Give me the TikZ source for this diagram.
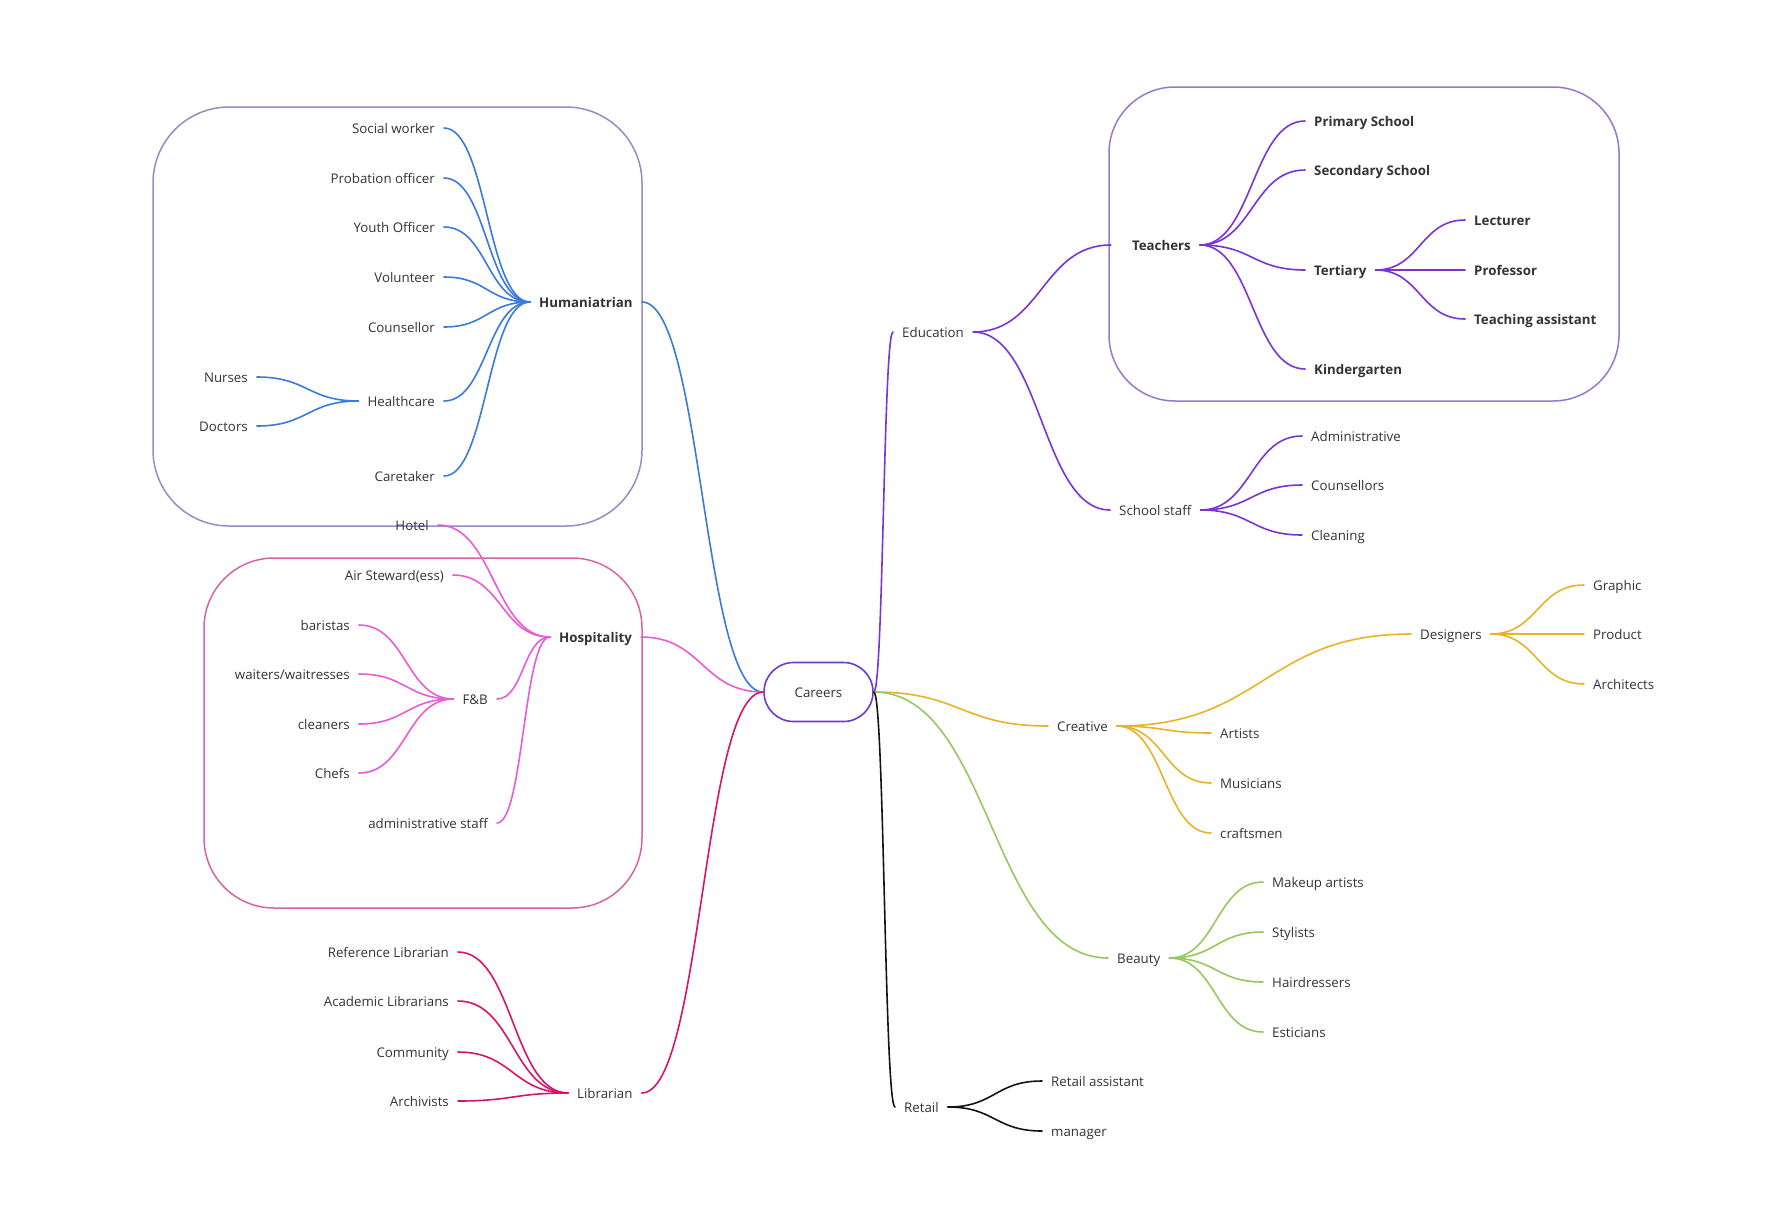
\documentclass[tikz,border=0pt]{standalone}
\usepackage{fontspec}
\setmainfont{Open Sans}
\usetikzlibrary{calc}
\definecolor{txt}{RGB}{51,51,51}
\definecolor{cblue}{RGB}{58,122,218}
\definecolor{cmag}{RGB}{232,92,214}
\definecolor{cpur}{RGB}{122,52,214}
\definecolor{cgold}{RGB}{234,178,40}
\definecolor{cgreen}{RGB}{150,200,96}
\definecolor{ccrim}{RGB}{212,20,110}
\definecolor{cblack}{RGB}{20,20,20}
\definecolor{bxlav}{RGB}{150,140,200}
\definecolor{bxpink}{RGB}{214,100,165}
\definecolor{bxpur}{RGB}{150,120,205}
\definecolor{ccar}{RGB}{110,60,200}
\begin{document}
\begin{tikzpicture}[x=1pt,y=-1pt,
 lbl/.style={font=\fontsize{13.3}{16}\selectfont, text=txt, inner xsep=9pt, inner ysep=0pt, text height=11pt, text depth=0.5pt},
 blbl/.style={lbl, font=\fontsize{13.3}{16}\selectfont\bfseries},
 br/.style={to path={let \p1=(\tikztostart), \p2=(\tikztotarget), \n1={0.5*(\x2-\x1)} in .. controls ([xshift=\n1]\tikztostart) and ([xshift=-\n1]\tikztotarget) .. (\tikztotarget)}},
 conn/.style={line width=1.6pt, line cap=round},
 grp/.style={line width=1.5pt}]
\useasboundingbox (0,0) rectangle (1770,1227);
\fill[white] (0,0) rectangle (1770,1227);
% group boxes
\draw[grp, bxlav, rounded corners=76pt] (153,107) rectangle (642,526);
\draw[grp, bxpink, rounded corners=70pt] (204,558) rectangle (642,908);
\draw[grp, bxpur, rounded corners=66pt] (1109,87) rectangle (1619,401);
% central
\node[lbl, draw=ccar, line width=1.6pt, rounded corners=29.5pt, minimum width=109pt, minimum height=59pt, inner xsep=0pt] (careers) at (818.5,692) {Careers};
% Humanitarian
\node[blbl, anchor=west] (hum) at (530,302) {Humaniatrian};
\node[lbl, anchor=east] (sw) at (444,128) {Social worker};
\node[lbl, anchor=east] (po) at (444,178) {Probation officer};
\node[lbl, anchor=east] (yo) at (444,227) {Youth Officer};
\node[lbl, anchor=east] (vol) at (444,277) {Volunteer};
\node[lbl, anchor=east] (cou) at (444,327) {Counsellor};
\node[lbl, anchor=east] (hc) at (444,401) {Healthcare};
\node[lbl, anchor=east] (car) at (444,476) {Caretaker};
\node[lbl, anchor=east] (nur) at (257,377) {Nurses};
\node[lbl, anchor=east] (doc) at (257,426) {Doctors};
% Hospitality
\node[blbl, anchor=west] (hos) at (550,637) {Hospitality};
\node[lbl, anchor=east] (hot) at (438,525) {Hotel};
\node[lbl, anchor=east] (air) at (453,575) {Air Steward(ess)};
\node[lbl, anchor=east] (fb) at (497,699) {F\&B};
\node[lbl, anchor=east] (adm) at (497,823) {administrative staff};
\node[lbl, anchor=east] (bar) at (359,625) {baristas};
\node[lbl, anchor=east] (wai) at (359,674) {waiters/waitresses};
\node[lbl, anchor=east] (cle) at (359,724) {cleaners};
\node[lbl, anchor=east] (che) at (359,773) {Chefs};
% Librarian
\node[lbl, anchor=west] (lib) at (568,1093) {Librarian};
\node[lbl, anchor=east] (ref) at (458,952) {Reference Librarian};
\node[lbl, anchor=east] (aca) at (458,1001) {Academic Librarians};
\node[lbl, anchor=east] (com) at (458,1052) {Community};
\node[lbl, anchor=east] (arc) at (458,1101) {Archivists};
% Education
\node[lbl, anchor=west] (edu) at (893,332) {Education};
\node[blbl, anchor=east] (tea) at (1200,245) {Teachers};
\node[blbl, anchor=west] (pri) at (1305,121) {Primary School};
\node[blbl, anchor=west] (sec) at (1305,170) {Secondary School};
\node[blbl, anchor=west] (ter) at (1305,270) {Tertiary};
\node[blbl, anchor=west] (kin) at (1305,369) {Kindergarten};
\node[blbl, anchor=west] (lec) at (1465,220) {Lecturer};
\node[blbl, anchor=west] (pro) at (1465,270) {Professor};
\node[blbl, anchor=west] (ta) at (1465,319) {Teaching assistant};
\node[lbl, anchor=west] (ss) at (1110,510) {School staff};
\node[lbl, anchor=west] (sad) at (1302,436) {Administrative};
\node[lbl, anchor=west] (sco) at (1302,485) {Counsellors};
\node[lbl, anchor=west] (scl) at (1302,535) {Cleaning};
% Creative
\node[lbl, anchor=east] (cre) at (1117,726) {Creative};
\node[lbl, anchor=west] (des) at (1411,634) {Designers};
\node[lbl, anchor=west] (gra) at (1584,585) {Graphic};
\node[lbl, anchor=west] (prd) at (1584,634) {Product};
\node[lbl, anchor=west] (arh) at (1584,684) {Architects};
\node[lbl, anchor=west] (art) at (1211,733) {Artists};
\node[lbl, anchor=west] (mus) at (1211,783) {Musicians};
\node[lbl, anchor=west] (cra) at (1211,833) {craftsmen};
% Beauty
\node[lbl, anchor=west] (bea) at (1108,958) {Beauty};
\node[lbl, anchor=west] (mak) at (1263,882) {Makeup artists};
\node[lbl, anchor=west] (sty) at (1263,932) {Stylists};
\node[lbl, anchor=west] (hai) at (1263,982) {Hairdressers};
\node[lbl, anchor=west] (est) at (1263,1032) {Esticians};
% Retail
\node[lbl, anchor=west] (ret) at (895,1107) {Retail};
\node[lbl, anchor=west] (ras) at (1042,1081) {Retail assistant};
\node[lbl, anchor=west] (man) at (1042,1131) {manager};
% connectors
\begin{scope}[conn, cblue]
\draw (careers.west) to[br] (hum.east);
\foreach \c in {sw,po,yo,vol,cou,hc,car} \draw (hum.west) to[br] (\c.east);
\foreach \c in {nur,doc} \draw (hc.west) to[br] (\c.east);
\end{scope}
\begin{scope}[conn, cmag]
\draw (careers.west) to[br] (hos.east);
\foreach \c in {hot,air,fb,adm} \draw (hos.west) to[br] (\c.east);
\foreach \c in {bar,wai,cle,che} \draw (fb.west) to[br] (\c.east);
\end{scope}
\begin{scope}[conn, ccrim]
\draw (careers.west) to[br] (lib.east);
\foreach \c in {ref,aca,com,arc} \draw (lib.west) to[br] (\c.east);
\end{scope}
\begin{scope}[conn, cpur]
\draw (careers.east) to[br] (edu.west);
\draw (edu.east) to[br] ([xshift=-12pt]tea.west);
\draw (edu.east) to[br] (ss.west);
\foreach \c in {pri,sec,ter,kin} \draw (tea.east) to[br] (\c.west);
\foreach \c in {lec,pro,ta} \draw (ter.east) to[br] (\c.west);
\foreach \c in {sad,sco,scl} \draw (ss.east) to[br] (\c.west);
\end{scope}
\begin{scope}[conn, cgold]
\draw (careers.east) to[br] (cre.west);
\foreach \c in {des,art,mus,cra} \draw (cre.east) to[br] (\c.west);
\foreach \c in {gra,prd,arh} \draw (des.east) to[br] (\c.west);
\end{scope}
\begin{scope}[conn, cgreen]
\draw (careers.east) to[br] (bea.west);
\foreach \c in {mak,sty,hai,est} \draw (bea.east) to[br] (\c.west);
\end{scope}
\begin{scope}[conn, cblack]
\draw (careers.east) to[br] (ret.west);
\foreach \c in {ras,man} \draw (ret.east) to[br] (\c.west);
\end{scope}
\end{tikzpicture}
\end{document}
